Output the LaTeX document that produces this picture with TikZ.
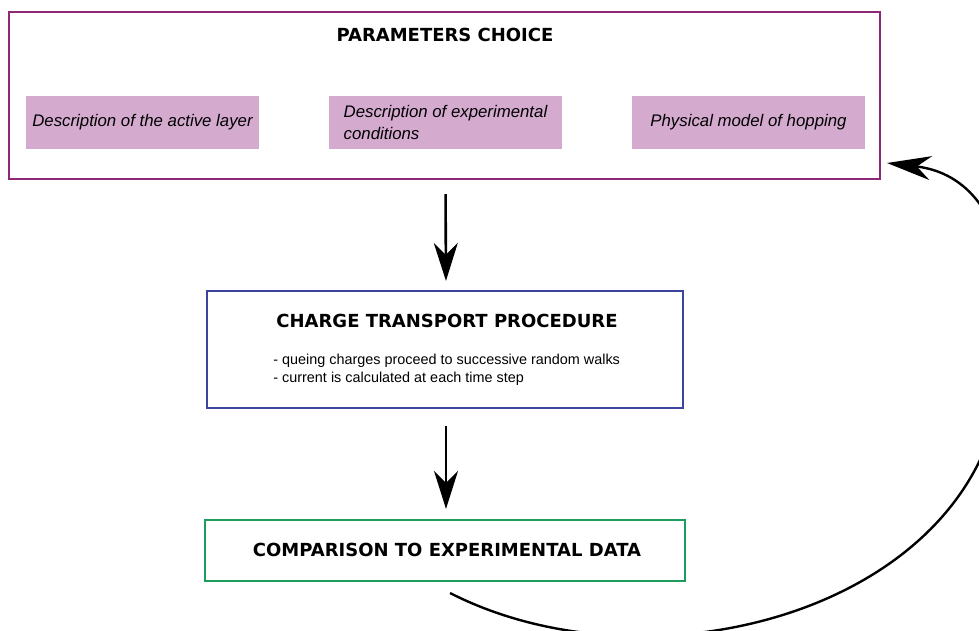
\documentclass[tikz,border=0pt]{standalone}
\usepackage{fontspec}
\setmainfont{Liberation Sans}
\newfontfamily\headfont{DejaVu Sans}
\usepackage{xcolor}
\usetikzlibrary{arrows.meta, positioning, calc}

\definecolor{parcol}{HTML}{8E2776}
\definecolor{lilac}{HTML}{D4AACF}
\definecolor{trancol}{HTML}{3C44A0}
\definecolor{compcol}{HTML}{1E9C5C}

\begin{document}
\begin{tikzpicture}[
    x=0.5pt, y=-0.5pt,
    every node/.style={inner sep=0pt},
    frame/.style={draw, line width=1.1pt, rectangle},
    title/.style={font=\headfont\bfseries\fontsize{9}{11}\selectfont},
    lilacbox/.style={fill=lilac, minimum width=116.5pt, minimum height=26.5pt,
                     font=\itshape\fontsize{8.4}{11}\selectfont},
    bullets/.style={align=left, font=\fontsize{7.2}{9}\selectfont},
    flow/.style={-{Stealth[length=19pt, width=12pt, inset=6pt]}, line width=1.3pt},
    loop/.style={-{Stealth[length=22pt, width=12pt, inset=7pt]}, line width=1.2pt}
]
\useasboundingbox (0,0) rectangle (979,631);
\clip (0,0) rectangle (979,631);

% parameters
\node[frame, draw=parcol, minimum width=435.5pt, minimum height=83.5pt] (params) at (444.5,95.5) {};
\node[title] (partitle) at (445,35) {PARAMETERS CHOICE};
\node[lilacbox] (layer) at (142.5,122.5) {Description of the active layer};
\node[lilacbox, align=left] (cond) at (445.5,122.5) {Description of experimental\\conditions};
\node[lilacbox] (hop) at (748.5,122.5) {Physical model of hopping};

% transport
\node[frame, draw=trancol, minimum width=238pt, minimum height=58.5pt] (charge) at (445,349.5) {};
\node[title] (chargetitle) at (447,321) {CHARGE TRANSPORT PROCEDURE};
\node[bullets, anchor=west] (steps) at (273,370)
    {- queing charges proceed to successive random walks\\- current is calculated at each time step};

% comparison
\node[frame, draw=compcol, minimum width=240pt, minimum height=30.5pt] (comp) at (445,550.5) {};
\node[title] (comptitle) at (447,550) {COMPARISON TO EXPERIMENTAL DATA};

\draw[flow, shorten <=7pt, shorten >=4.5pt] ([xshift=0.5pt]params.south) -- ([xshift=0.5pt]charge.north);
\draw[flow, shorten <=8.5pt, shorten >=5pt] ([xshift=0.5pt]charge.south) -- ([xshift=0.5pt]comp.north);

% feedback loop
\coordinate (loopstart) at (450,593);
\coordinate (loopend) at (887,163);
\draw[loop] (loopstart) .. controls (640,690) and (940,620) .. (995,420)
    .. controls (1030,260) and (990,175) .. (loopend);
\end{tikzpicture}
\end{document}
